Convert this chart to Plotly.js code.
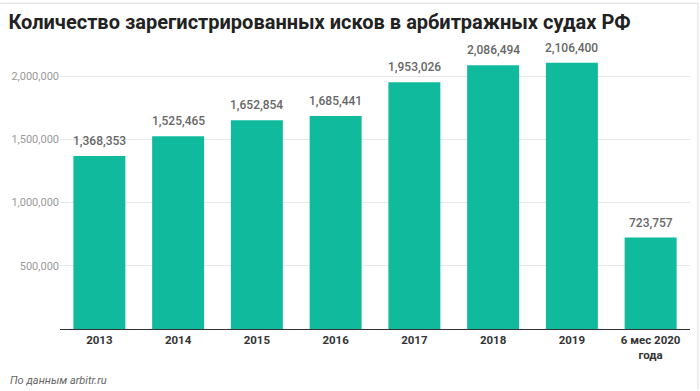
<!DOCTYPE html>
<html><head><meta charset="utf-8">
<script src="https://cdn.plot.ly/plotly-3.0.1.min.js"></script>
<style>html,body{margin:0;padding:0;background:#fff}#c{width:700px;height:391px}</style>
</head><body><div id="c"></div>
<script>
const categories = ["2013","2014","2015","2016","2017","2018","2019","6 мес 2020<br>года"];
const claims = [1368353,1525465,1652854,1685441,1953026,2086494,2106400,723757];
const labels = claims.map(v => v.toLocaleString('en-US'));
const tickVals = [500000,1000000,1500000,2000000];
const tickText = ["500,000","1,000,000","1,500,000","2,000,000"];

const valueNotes = categories.map((c,i) => ({
  x:i, y:claims[i], xref:'x', yref:'y', text:labels[i], showarrow:false,
  yanchor:'middle', yshift:15, font:{family:'Roboto', size:12, color:'#666', weight:500}
}));

Plotly.newPlot('c', [{
  type:'bar', x:categories, y:claims, marker:{color:'#10bb9d'}, hoverinfo:'none'
}], {
  width:700, height:391,
  margin:{l:60, r:10, t:51, b:62},
  paper_bgcolor:'#fff', plot_bgcolor:'#fff',
  bargap:0.34,
  title:{text:'<b>Количество зарегистрированных исков в арбитражных судах РФ</b>', x:0.012, xanchor:'left', y:0.944, yanchor:'middle',
    font:{family:'Roboto', size:20, color:'#222'}},
  xaxis:{type:'category', range:[-0.5,7.5], showline:true, linecolor:'#333', linewidth:1, ticks:'', tickfont:{family:'Roboto', size:11.5, color:'#333', weight:'bold'}},
  yaxis:{range:[0,2200000], tickvals:tickVals, ticktext:tickText, showgrid:true, gridcolor:'#e8e8e8', zeroline:false,
    tickfont:{family:'Roboto', size:11, color:'#999'}, ticks:'', ticklen:0},
  showlegend:false,
  annotations: valueNotes.concat([{text:'<i>По данным arbitr.ru</i>', xref:'paper', yref:'paper', x:-0.083, y:-0.187, xanchor:'left', yanchor:'middle', showarrow:false,
    font:{family:'Roboto', size:11, color:'#666'}}]),
  shapes:[
    {type:'line', xref:'paper', yref:'paper', x0:-0.095, x1:1.0127, y0:1.172, y1:1.172, line:{color:'#ddd', width:1}},
    {type:'line', xref:'paper', yref:'paper', x0:1.0127, x1:1.0127, y0:1.172, y1:-0.22, line:{color:'#ddd', width:1}}
  ]
}, {staticPlot:true});
</script></body></html>
